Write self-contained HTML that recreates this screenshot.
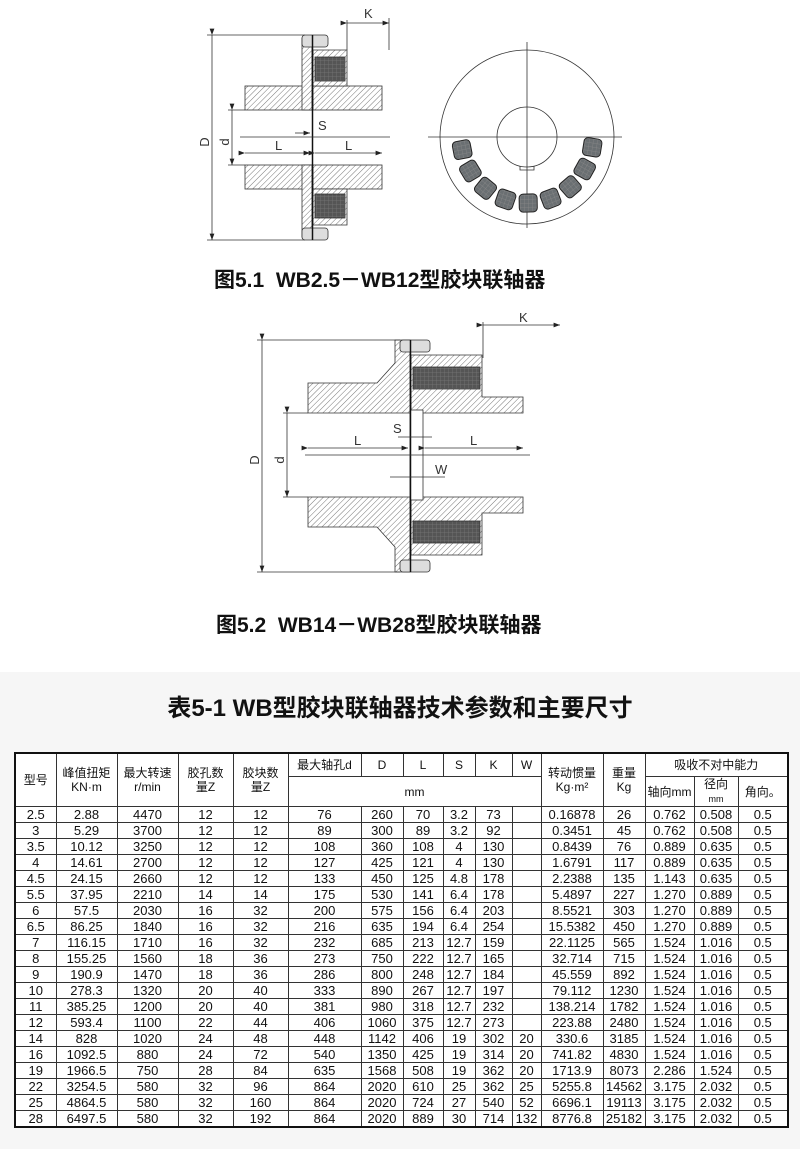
<!DOCTYPE html>
<html><head><meta charset="utf-8">
<style>
html,body{margin:0;padding:0;}
body{width:800px;height:1149px;position:relative;background:#fff;overflow:hidden;font-family:"Liberation Sans","Noto Sans CJK SC",sans-serif;}
.band{position:absolute;left:0;top:672px;width:800px;height:477px;background:#f6f6f6;}
.cap{position:absolute;font-weight:bold;font-size:21px;color:#111;white-space:nowrap;}
.title{position:absolute;left:0;width:800px;top:688px;text-align:center;font-weight:bold;font-size:24px;color:#111;}
table{position:absolute;left:14px;top:752px;border-collapse:collapse;table-layout:fixed;border:2px solid #111;background:#fff;font-family:"Liberation Sans Narrow","Liberation Sans","Noto Sans CJK SC",sans-serif;}
td{border:1px solid #333;text-align:center;font-size:13px;color:#111;padding:0;line-height:14px;overflow:hidden;white-space:nowrap;}
tr.h td{height:22px;font-size:12px;}
tr.d td{height:15px;}
</style></head><body>
<svg width="800" height="660" style="position:absolute;left:0;top:0" xmlns="http://www.w3.org/2000/svg">
<defs>
<pattern id="ht" width="4" height="4" patternUnits="userSpaceOnUse" patternTransform="rotate(45)">
<rect width="4" height="4" fill="#fff"/><line x1="0" y1="0" x2="0" y2="4" stroke="#777" stroke-width="1"/></pattern>
<pattern id="rb" width="4" height="4" patternUnits="userSpaceOnUse"><rect width="4" height="4" fill="#555"/><path d="M0 0H4M0 0V4" stroke="#777" stroke-width="0.8"/></pattern>
<pattern id="rb2" width="4" height="4" patternUnits="userSpaceOnUse"><rect width="4" height="4" fill="#6a6f72"/><path d="M0 0H4M0 0V4" stroke="#888" stroke-width="0.8"/></pattern>
<marker id="ar" markerWidth="8" markerHeight="6" refX="8" refY="3" orient="auto"><path d="M0,0 L8,3 L0,6z" fill="#222"/></marker>
</defs>
<g stroke="#333" stroke-width="0.8" fill="none">
<rect x="245" y="86" width="67" height="24" fill="url(#ht)"/>
<rect x="245" y="165" width="67" height="24" fill="url(#ht)"/>
<rect x="302" y="38" width="10" height="72" fill="url(#ht)"/>
<rect x="302" y="165" width="10" height="72" fill="url(#ht)"/>
<rect x="313" y="86" width="69" height="24" fill="url(#ht)"/>
<rect x="313" y="165" width="69" height="24" fill="url(#ht)"/>
<path d="M313 50 H347 V86 H313Z" fill="url(#ht)"/>
<path d="M313 189 H347 V225 H313Z" fill="url(#ht)"/>
<rect x="315" y="57" width="30" height="24" fill="url(#rb)"/>
<rect x="315" y="194" width="30" height="24" fill="url(#rb)"/>
<rect x="302" y="35" width="26" height="12" rx="3" fill="#ddd"/>
<rect x="302" y="228" width="26" height="12" rx="3" fill="#ddd"/>
<line x1="312.5" y1="35" x2="312.5" y2="240" stroke="#111" stroke-width="1.5"/>
<line x1="240" y1="137" x2="390" y2="137"/>
<line x1="212" y1="35" x2="212" y2="240" marker-start="url(#ar)" marker-end="url(#ar)"/>
<line x1="207" y1="35" x2="305" y2="35"/><line x1="207" y1="240" x2="305" y2="240"/>
<line x1="232" y1="110" x2="232" y2="165" marker-start="url(#ar)" marker-end="url(#ar)"/>
<line x1="228" y1="110" x2="245" y2="110"/><line x1="228" y1="165" x2="245" y2="165"/>
<line x1="245" y1="153" x2="310" y2="153" marker-start="url(#ar)" marker-end="url(#ar)"/>
<line x1="315" y1="153" x2="382" y2="153" marker-start="url(#ar)" marker-end="url(#ar)"/>
<line x1="347" y1="23" x2="389" y2="23" marker-start="url(#ar)" marker-end="url(#ar)"/>
<line x1="347" y1="20" x2="347" y2="50"/><line x1="389" y1="18" x2="389" y2="50"/>
<line x1="295" y1="133" x2="310" y2="133" marker-end="url(#ar)"/>
<circle cx="527" cy="137" r="87"/>
<circle cx="527" cy="137" r="30"/>
<path d="M520 166 V170 H534 V166" />
<line x1="428" y1="137" x2="622" y2="137"/>
<line x1="527" y1="42" x2="527" y2="228"/>
<path d="M308 383 H377 L395 363 V340 H410 V413 H308Z" fill="url(#ht)"/>
<path d="M308 527 H377 L395 547 V572 H410 V497 H308Z" fill="url(#ht)"/>
<path d="M411 355 H482 V397 H523 V413 H411Z" fill="url(#ht)"/>
<path d="M411 555 H482 V513 H523 V497 H411Z" fill="url(#ht)"/>
<rect x="413" y="367" width="67" height="22" fill="url(#rb)"/>
<rect x="413" y="521" width="67" height="22" fill="url(#rb)"/>
<rect x="410" y="410" width="13" height="90" fill="#fff"/>
<rect x="400" y="340" width="30" height="12" rx="3" fill="#ddd"/>
<rect x="400" y="560" width="30" height="12" rx="3" fill="#ddd"/>
<line x1="410.5" y1="340" x2="410.5" y2="572" stroke="#111" stroke-width="1.5"/>
<line x1="305" y1="455" x2="530" y2="455"/>
<line x1="262" y1="340" x2="262" y2="572" marker-start="url(#ar)" marker-end="url(#ar)"/>
<line x1="257" y1="340" x2="400" y2="340"/><line x1="257" y1="572" x2="400" y2="572"/>
<line x1="287" y1="413" x2="287" y2="497" marker-start="url(#ar)" marker-end="url(#ar)"/>
<line x1="283" y1="413" x2="308" y2="413"/><line x1="283" y1="497" x2="308" y2="497"/>
<line x1="308" y1="448" x2="408" y2="448" marker-start="url(#ar)" marker-end="url(#ar)"/>
<line x1="425" y1="448" x2="523" y2="448" marker-start="url(#ar)" marker-end="url(#ar)"/>
<line x1="398" y1="437" x2="432" y2="437"/>
<line x1="390" y1="477" x2="445" y2="477"/>
<line x1="483" y1="325" x2="560" y2="325" marker-start="url(#ar)" marker-end="url(#ar)"/>
<line x1="483" y1="322" x2="483" y2="358"/>
</g>
<g fill="url(#rb2)" stroke="#222" stroke-width="1">
<rect x="-9" y="-9" width="18" height="18" rx="4" transform="translate(592.2,147.3) rotate(-81)"/>
<rect x="-9" y="-9" width="18" height="18" rx="4" transform="translate(584.7,169) rotate(-61)"/>
<rect x="-9" y="-9" width="18" height="18" rx="4" transform="translate(570.3,186.8) rotate(-41)"/>
<rect x="-9" y="-9" width="18" height="18" rx="4" transform="translate(550.6,198.6) rotate(-21)"/>
<rect x="-9" y="-9" width="18" height="18" rx="4" transform="translate(528.2,203) rotate(-1)"/>
<rect x="-9" y="-9" width="18" height="18" rx="4" transform="translate(505.5,199.4) rotate(19)"/>
<rect x="-9" y="-9" width="18" height="18" rx="4" transform="translate(485.5,188.3) rotate(39)"/>
<rect x="-9" y="-9" width="18" height="18" rx="4" transform="translate(470.4,171) rotate(59)"/>
<rect x="-9" y="-9" width="18" height="18" rx="4" transform="translate(462.2,149.6) rotate(79)"/>
</g>
<g font-family="Liberation Sans,sans-serif" font-size="13" fill="#333">
<text x="209" y="142" transform="rotate(-90 209 142)" text-anchor="middle">D</text>
<text x="229" y="142" transform="rotate(-90 229 142)" text-anchor="middle">d</text>
<text x="275" y="150">L</text><text x="345" y="150">L</text>
<text x="318" y="130">S</text><text x="364" y="18">K</text>
<text x="259" y="460" transform="rotate(-90 259 460)" text-anchor="middle">D</text>
<text x="284" y="460" transform="rotate(-90 284 460)" text-anchor="middle">d</text>
<text x="354" y="445">L</text><text x="470" y="445">L</text>
<text x="393" y="433">S</text><text x="435" y="474">W</text><text x="519" y="322">K</text>
</g>
</svg>
<div class="cap" style="left:214px;top:264px;">图5.1&nbsp; WB2.5－WB12型胶块联轴器</div>
<div class="cap" style="left:216px;top:609px;">图5.2&nbsp; WB14－WB28型胶块联轴器</div>
<div class="band"></div>
<div class="title">表5-1 WB型胶块联轴器技术参数和主要尺寸</div>
<table>
<colgroup><col style="width:41px"><col style="width:61px"><col style="width:61px"><col style="width:55px"><col style="width:55px"><col style="width:73px"><col style="width:42px"><col style="width:40px"><col style="width:32px"><col style="width:37px"><col style="width:29px"><col style="width:62px"><col style="width:42px"><col style="width:49px"><col style="width:44px"><col style="width:50px"></colgroup>
<tr class="h"><td rowspan="2">型号</td><td rowspan="2">峰值扭矩<br>KN·m</td><td rowspan="2">最大转速<br>r/min</td><td rowspan="2">胶孔数<br>量Z</td><td rowspan="2">胶块数<br>量Z</td><td>最大轴孔d</td><td>D</td><td>L</td><td>S</td><td>K</td><td>W</td><td rowspan="2">转动惯量<br>Kg·m²</td><td rowspan="2">重量<br>Kg</td><td colspan="3">吸收不对中能力</td></tr>
<tr class="h"><td colspan="6">mm</td><td>轴向mm</td><td>径向<br><span style="font-size:9px">mm</span></td><td>角向。</td></tr>
<tr class="d"><td>2.5</td><td>2.88</td><td>4470</td><td>12</td><td>12</td><td>76</td><td>260</td><td>70</td><td>3.2</td><td>73</td><td></td><td>0.16878</td><td>26</td><td>0.762</td><td>0.508</td><td>0.5</td></tr>
<tr class="d"><td>3</td><td>5.29</td><td>3700</td><td>12</td><td>12</td><td>89</td><td>300</td><td>89</td><td>3.2</td><td>92</td><td></td><td>0.3451</td><td>45</td><td>0.762</td><td>0.508</td><td>0.5</td></tr>
<tr class="d"><td>3.5</td><td>10.12</td><td>3250</td><td>12</td><td>12</td><td>108</td><td>360</td><td>108</td><td>4</td><td>130</td><td></td><td>0.8439</td><td>76</td><td>0.889</td><td>0.635</td><td>0.5</td></tr>
<tr class="d"><td>4</td><td>14.61</td><td>2700</td><td>12</td><td>12</td><td>127</td><td>425</td><td>121</td><td>4</td><td>130</td><td></td><td>1.6791</td><td>117</td><td>0.889</td><td>0.635</td><td>0.5</td></tr>
<tr class="d"><td>4.5</td><td>24.15</td><td>2660</td><td>12</td><td>12</td><td>133</td><td>450</td><td>125</td><td>4.8</td><td>178</td><td></td><td>2.2388</td><td>135</td><td>1.143</td><td>0.635</td><td>0.5</td></tr>
<tr class="d"><td>5.5</td><td>37.95</td><td>2210</td><td>14</td><td>14</td><td>175</td><td>530</td><td>141</td><td>6.4</td><td>178</td><td></td><td>5.4897</td><td>227</td><td>1.270</td><td>0.889</td><td>0.5</td></tr>
<tr class="d"><td>6</td><td>57.5</td><td>2030</td><td>16</td><td>32</td><td>200</td><td>575</td><td>156</td><td>6.4</td><td>203</td><td></td><td>8.5521</td><td>303</td><td>1.270</td><td>0.889</td><td>0.5</td></tr>
<tr class="d"><td>6.5</td><td>86.25</td><td>1840</td><td>16</td><td>32</td><td>216</td><td>635</td><td>194</td><td>6.4</td><td>254</td><td></td><td>15.5382</td><td>450</td><td>1.270</td><td>0.889</td><td>0.5</td></tr>
<tr class="d"><td>7</td><td>116.15</td><td>1710</td><td>16</td><td>32</td><td>232</td><td>685</td><td>213</td><td>12.7</td><td>159</td><td></td><td>22.1125</td><td>565</td><td>1.524</td><td>1.016</td><td>0.5</td></tr>
<tr class="d"><td>8</td><td>155.25</td><td>1560</td><td>18</td><td>36</td><td>273</td><td>750</td><td>222</td><td>12.7</td><td>165</td><td></td><td>32.714</td><td>715</td><td>1.524</td><td>1.016</td><td>0.5</td></tr>
<tr class="d"><td>9</td><td>190.9</td><td>1470</td><td>18</td><td>36</td><td>286</td><td>800</td><td>248</td><td>12.7</td><td>184</td><td></td><td>45.559</td><td>892</td><td>1.524</td><td>1.016</td><td>0.5</td></tr>
<tr class="d"><td>10</td><td>278.3</td><td>1320</td><td>20</td><td>40</td><td>333</td><td>890</td><td>267</td><td>12.7</td><td>197</td><td></td><td>79.112</td><td>1230</td><td>1.524</td><td>1.016</td><td>0.5</td></tr>
<tr class="d"><td>11</td><td>385.25</td><td>1200</td><td>20</td><td>40</td><td>381</td><td>980</td><td>318</td><td>12.7</td><td>232</td><td></td><td>138.214</td><td>1782</td><td>1.524</td><td>1.016</td><td>0.5</td></tr>
<tr class="d"><td>12</td><td>593.4</td><td>1100</td><td>22</td><td>44</td><td>406</td><td>1060</td><td>375</td><td>12.7</td><td>273</td><td></td><td>223.88</td><td>2480</td><td>1.524</td><td>1.016</td><td>0.5</td></tr>
<tr class="d"><td>14</td><td>828</td><td>1020</td><td>24</td><td>48</td><td>448</td><td>1142</td><td>406</td><td>19</td><td>302</td><td>20</td><td>330.6</td><td>3185</td><td>1.524</td><td>1.016</td><td>0.5</td></tr>
<tr class="d"><td>16</td><td>1092.5</td><td>880</td><td>24</td><td>72</td><td>540</td><td>1350</td><td>425</td><td>19</td><td>314</td><td>20</td><td>741.82</td><td>4830</td><td>1.524</td><td>1.016</td><td>0.5</td></tr>
<tr class="d"><td>19</td><td>1966.5</td><td>750</td><td>28</td><td>84</td><td>635</td><td>1568</td><td>508</td><td>19</td><td>362</td><td>20</td><td>1713.9</td><td>8073</td><td>2.286</td><td>1.524</td><td>0.5</td></tr>
<tr class="d"><td>22</td><td>3254.5</td><td>580</td><td>32</td><td>96</td><td>864</td><td>2020</td><td>610</td><td>25</td><td>362</td><td>25</td><td>5255.8</td><td>14562</td><td>3.175</td><td>2.032</td><td>0.5</td></tr>
<tr class="d"><td>25</td><td>4864.5</td><td>580</td><td>32</td><td>160</td><td>864</td><td>2020</td><td>724</td><td>27</td><td>540</td><td>52</td><td>6696.1</td><td>19113</td><td>3.175</td><td>2.032</td><td>0.5</td></tr>
<tr class="d"><td>28</td><td>6497.5</td><td>580</td><td>32</td><td>192</td><td>864</td><td>2020</td><td>889</td><td>30</td><td>714</td><td>132</td><td>8776.8</td><td>25182</td><td>3.175</td><td>2.032</td><td>0.5</td></tr>
</table>
</body></html>
